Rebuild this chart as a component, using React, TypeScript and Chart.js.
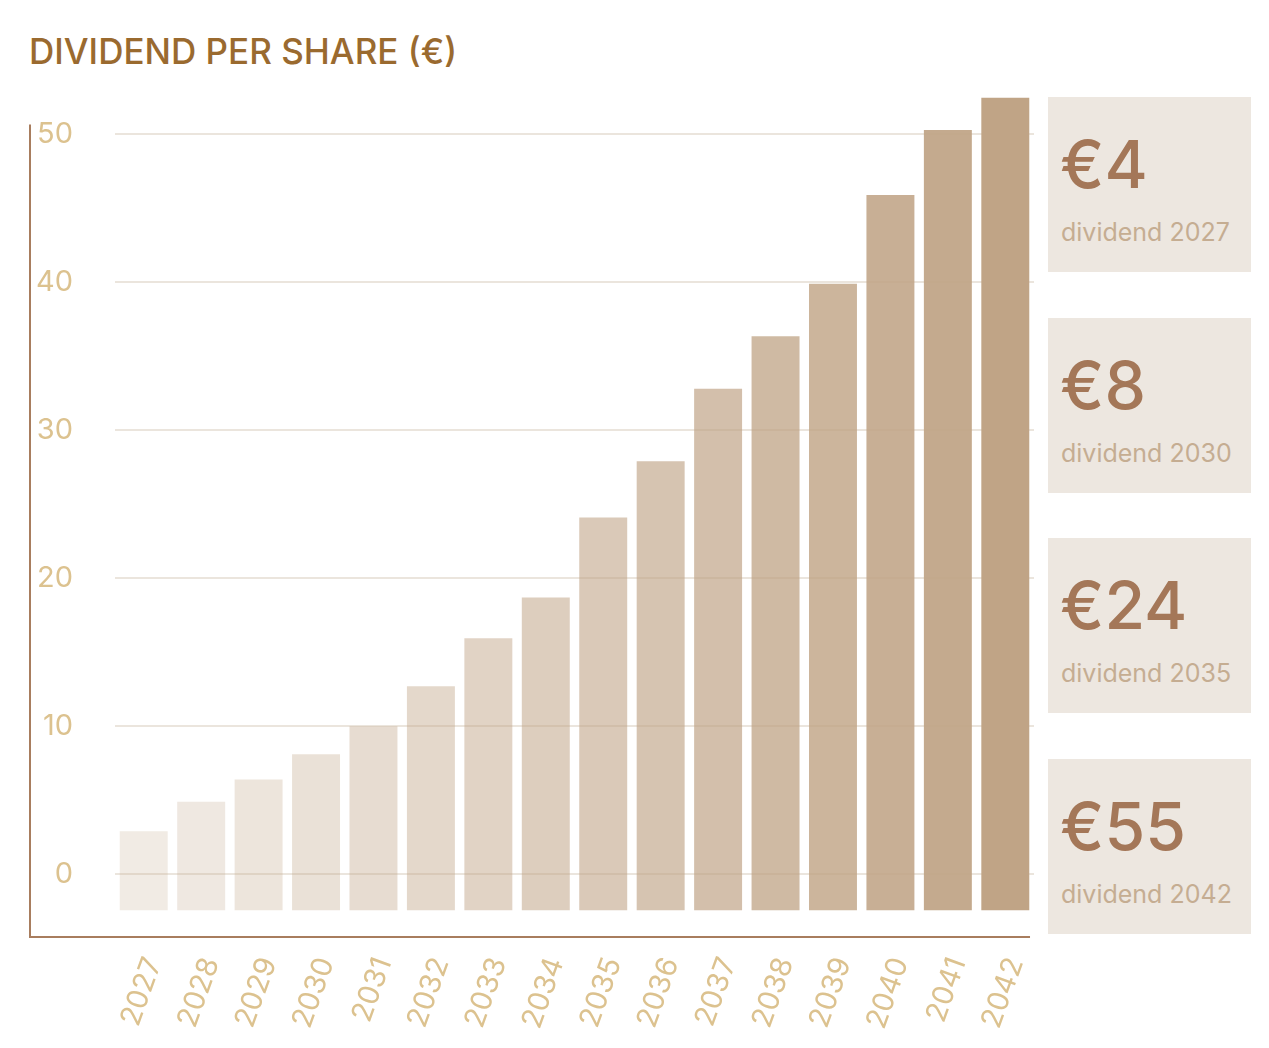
import React, { useEffect, useRef } from "react";
import { Chart, registerables } from "chart.js";

Chart.register(...registerables);

const years = ["2027", "2028", "2029", "2030", "2031", "2032", "2033", "2034", "2035", "2036", "2037", "2038", "2039", "2040", "2041", "2042"];
const dividends = [2.9, 4.9, 6.4, 8.1, 10.0, 12.7, 15.95, 18.7, 24.1, 27.9, 32.8, 36.35, 39.9, 45.9, 50.3, 52.5];
const yTicks = [0, 10, 20, 30, 40, 50];
const cardValues = ["€4", "€8", "€24", "€55"];
const cardLabels = ["dividend 2027", "dividend 2030", "dividend 2035", "dividend 2042"];

const FONT = "Inter, 'Noto Sans', sans-serif";
const AXIS_COLOR = "#a87d5e";
const TICK_COLOR = "#dcc28f";

const axisFrame = {
  id: "axisFrame",
  afterDraw(chart: any) {
    const { ctx, chartArea } = chart;
    const x0 = chartArea.left - 85;
    ctx.save();
    ctx.strokeStyle = AXIS_COLOR;
    ctx.lineWidth = 2;
    ctx.beginPath();
    ctx.moveTo(x0, chartArea.top + 27);
    ctx.lineTo(x0, chartArea.bottom);
    ctx.lineTo(chartArea.right - 4, chartArea.bottom);
    ctx.stroke();
    ctx.restore();
  },
};

function ChartCanvas() {
  const ref = useRef<HTMLCanvasElement>(null);
  useEffect(() => {
    if (!ref.current) return;
    const n = years.length;
    const colors = years.map((_, i) => {
      const t = i / (n - 1);
      return `rgba(192,164,134,${(0.22 + 0.78 * Math.pow(t, 1.2)).toFixed(3)})`;
    });
    const chart = new Chart(ref.current, {
      type: "bar",
      data: {
        labels: years,
        datasets: [
          {
            data: dividends,
            backgroundColor: colors,
            borderWidth: 0,
            base: -2.45,
            barPercentage: 0.835,
            categoryPercentage: 1,
          } as any,
        ],
      },
      options: {
        animation: false,
        responsive: false,
        maintainAspectRatio: false,
        layout: { padding: { top: 0, right: 0, left: 0, bottom: 0 } },
        plugins: { legend: { display: false }, tooltip: { enabled: false }, title: { display: false } },
        scales: {
          x: {
            grid: { display: false },
            border: { display: false },
            ticks: {
              color: TICK_COLOR,
              font: { family: FONT, size: 29 },
              minRotation: 70,
              maxRotation: 70,
              padding: 8,
              labelOffset: 10,
              autoSkip: false,
            },
            afterFit(scale: any) {
              scale.height = 111;
            },
          },
          y: {
            min: -4.25,
            max: 52.5,
            border: { display: false },
            grid: { color: "rgba(205,190,170,0.4)", lineWidth: 2, drawTicks: false },
            ticks: {
              color: TICK_COLOR,
              font: { family: FONT, size: 29 },
              padding: 42,
            },
            afterBuildTicks(scale: any) {
              scale.ticks = yTicks.map((v) => ({ value: v }));
            },
            afterFit(scale: any) {
              scale.width = 115;
            },
          },
        },
      },
      plugins: [axisFrame],
    });
    return () => chart.destroy();
  }, []);
  return <canvas ref={ref} width={1046} height={1010} style={{ position: "absolute", left: -8, top: 30, width: 1046, height: 1010 }} />;
}

export default function App() {
  return (
    <div style={{ position: "relative", width: 1253, height: 1032, fontFamily: FONT }}>
      <div
        style={{
          position: "absolute",
          left: 21,
          top: 22,
          fontSize: 35,
          fontWeight: 500,
          color: "#9a6a2f",
          lineHeight: "42px",
          whiteSpace: "nowrap",
        }}
      >
        DIVIDEND PER SHARE (€)
      </div>
      <ChartCanvas />
      {cardValues.map((v, i) => (
        <div
          key={v}
          style={{
            position: "absolute",
            left: 1040,
            top: 89 + i * 220.7,
            width: 203,
            height: 175,
            background: "#ede7e0",
          }}
        >
          <div
            style={{
              position: "absolute",
              left: 12,
              top: 34,
              fontSize: 66,
              lineHeight: "66px",
              fontWeight: 500,
              color: "#a47758",
              whiteSpace: "nowrap",
            }}
          >
            {v}
          </div>
          <div
            style={{
              position: "absolute",
              left: 13,
              top: 123,
              fontSize: 25,
              lineHeight: "25px",
              color: "#c5ad92",
              whiteSpace: "nowrap",
            }}
          >
            {cardLabels[i]}
          </div>
        </div>
      ))}
    </div>
  );
}
